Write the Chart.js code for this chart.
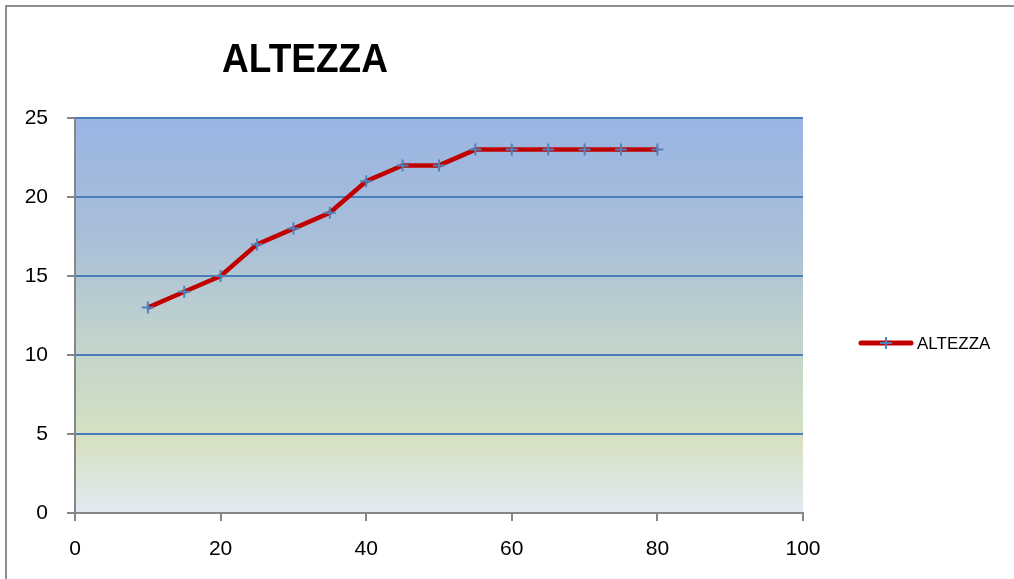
<!DOCTYPE html>
<html>
<head>
<meta charset="utf-8">
<script src="https://cdn.jsdelivr.net/npm/chart.js@4/dist/chart.umd.min.js"></script>
<style>
html,body{margin:0;padding:0;background:#fff;}
#wrap{position:relative;width:1014px;height:579px;overflow:hidden;}
#frame{position:absolute;left:5px;top:5px;width:1020px;height:600px;border-top:2px solid #8e8e8e;border-left:2px solid #8e8e8e;box-sizing:border-box;pointer-events:none;}
canvas{position:absolute;left:0;top:0;}
</style>
</head>
<body>
<div id="wrap">
<canvas id="c" width="1014" height="579"></canvas>
<div id="frame"></div>
</div>
<script>
const chartTitle = "ALTEZZA";
const seriesName = "ALTEZZA";
const xValues = [10, 15, 20, 25, 30, 35, 40, 45, 50, 55, 60, 65, 70, 75, 80];
const heights = [13, 14, 15, 17, 18, 19, 21, 22, 22, 23, 23, 23, 23, 23, 23];
const xTicks = [0, 20, 40, 60, 80, 100];
const yTicks = [0, 5, 10, 15, 20, 25];

const points = xValues.map((x, i) => ({x: x, y: heights[i]}));
const FONT = "'Liberation Sans', Arial, sans-serif";

const bgPlugin = {
  id: 'bg',
  beforeDraw(chart) {
    const {ctx, chartArea: a} = chart;
    const g = ctx.createLinearGradient(0, a.top, 0, a.bottom);
    g.addColorStop(0, '#9ab5e4');
    g.addColorStop(0.3, '#a9bed8');
    g.addColorStop(0.55, '#c0d3cd');
    g.addColorStop(0.82, '#d6e2c1');
    g.addColorStop(1, '#e3e9f3');
    ctx.save();
    ctx.fillStyle = g;
    ctx.fillRect(a.left, a.top, a.right - a.left, a.bottom - a.top);
    ctx.restore();
  },
  afterDraw(chart) {
    const ctx = chart.ctx;
    ctx.save();
    ctx.font = "bold 41px " + FONT;
    ctx.fillStyle = '#000';
    ctx.textBaseline = 'alphabetic';
    const w = ctx.measureText(chartTitle).width;
    const sx = 166 / w;
    ctx.translate(305, 72);
    ctx.scale(sx, 1);
    ctx.textAlign = 'center';
    ctx.fillText(chartTitle, 0, 0);
    ctx.restore();
    ctx.save();
    ctx.strokeStyle = '#c00000';
    ctx.lineWidth = 5;
    ctx.lineCap = 'round';
    ctx.beginPath();
    ctx.moveTo(861, 343);
    ctx.lineTo(911, 343);
    ctx.stroke();
    ctx.strokeStyle = '#4f81bd';
    ctx.lineWidth = 2;
    ctx.lineCap = 'butt';
    ctx.beginPath();
    ctx.moveTo(880, 343); ctx.lineTo(892, 343);
    ctx.moveTo(886, 337); ctx.lineTo(886, 349);
    ctx.stroke();
    ctx.font = "17px " + FONT;
    ctx.fillStyle = '#000';
    ctx.textBaseline = 'middle';
    ctx.textAlign = 'left';
    ctx.fillText(seriesName, 917, 344);
    ctx.restore();
  }
};

new Chart(document.getElementById('c'), {
  type: 'line',
  data: {
    datasets: [{
      label: seriesName,
      data: points,
      borderColor: '#c00000',
      borderWidth: 4.5,
      pointStyle: 'cross',
      pointRadius: 6,
      pointBorderWidth: 2,
      pointBorderColor: '#4f81bd',
      pointBackgroundColor: '#4f81bd',
      pointHoverRadius: 6,
      tension: 0,
      fill: false
    }]
  },
  options: {
    responsive: false,
    animation: false,
    events: [],
    layout: {padding: {left: 0, top: 118, right: 211, bottom: 0}},
    plugins: {legend: {display: false}, title: {display: false}, tooltip: {enabled: false}},
    scales: {
      x: {
        type: 'linear',
        min: 0, max: 100,
        afterFit(s) { s.height = 66; },
        afterBuildTicks(s) { s.ticks = xTicks.map(v => ({value: v})); },
        ticks: {color: '#000', font: {family: FONT, size: 21}, padding: 16, maxRotation: 0},
        grid: {drawOnChartArea: false, drawTicks: true, tickLength: 8, tickColor: '#868686', lineWidth: 2},
        border: {display: true, color: '#868686', width: 2}
      },
      y: {
        min: 0, max: 25,
        afterFit(s) { s.width = 75; },
        afterBuildTicks(s) { s.ticks = yTicks.map(v => ({value: v})); },
        ticks: {color: '#000', font: {family: FONT, size: 21}, padding: 19},
        grid: {
          drawOnChartArea: true, drawTicks: true, tickLength: 8,
          tickColor: '#868686',
          color: ctx => ctx.tick && ctx.tick.value === 0 ? 'rgba(0,0,0,0)' : '#4a7ebb',
          lineWidth: 2
        },
        border: {display: true, color: '#868686', width: 2}
      }
    }
  },
  plugins: [bgPlugin]
});
</script>
</body>
</html>
